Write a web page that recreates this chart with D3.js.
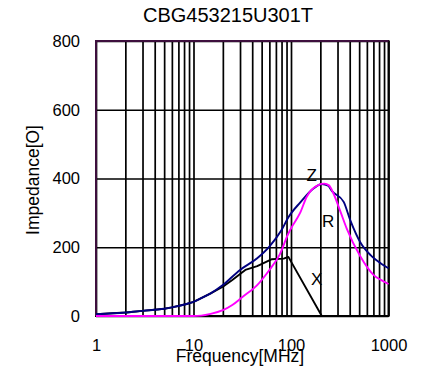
<!DOCTYPE html>
<html><head><meta charset="utf-8">
<script src="https://cdn.jsdelivr.net/npm/d3@7"></script>
<style>body{margin:0;background:#fff}svg{display:block}text{font-family:"Liberation Sans",Arial,sans-serif;fill:#000}</style>
</head><body><svg id="c" width="422" height="374"></svg>
<script>
const title = "CBG453215U301T";
const xLabel = "Frequency[MHz]";
const yLabel = "Impedance[O]";
const xTicks = [1, 10, 100, 1000];
const yTicks = [0, 200, 400, 600, 800];

const zFreq = [1, 2, 3, 5, 6, 8.5, 10, 12, 15, 20, 30, 45, 60, 80, 94, 124, 170, 207, 240, 262, 347, 405, 515, 655, 835, 1000];
const zVal  = [5, 10, 15, 21, 25, 35, 41, 52, 66, 90, 134, 168, 202, 250, 287, 330, 371, 384, 379, 364, 332, 279, 214, 177, 153, 139];

const rFreq = [1, 5, 10, 12, 15, 20, 25, 32, 45, 60, 77, 94, 105, 124, 145, 190, 220, 245, 272, 320, 372, 515, 705, 835, 1000];
const rVal  = [0, 0, 0, 1, 6, 17, 32, 56, 90, 134, 180, 240, 265, 300, 347, 381, 385, 380, 357, 305, 255, 173, 119, 105, 93];

const xFreq = [1, 2, 3, 5, 6, 8.5, 10, 12, 15, 20, 25, 34, 45, 63, 84, 94, 207];
const xVal  = [5, 10, 15, 21, 25, 35, 41, 52, 66, 85, 105, 134, 145, 165, 167, 172, 0];

const seriesNames = ["X", "Z", "R"];
const seriesColors = {X: "#000000", Z: "#000080", R: "#ff00ff"};
const labelNames = ["Z", "R", "X"];
const labelFreq = [163, 241, 183];
const labelVal = [394, 260, 90];

const L = 96, R = 388.5, T = 41, B = 316;
const svg = d3.select("#c");
const x = d3.scaleLog().domain([1, 1000]).range([L, R]);
const y = d3.scaleLinear().domain([0, 800]).range([B, T]);
const FONT = '"Liberation Sans",Arial,sans-serif';

const gridX = [];
for (let d = 1; d < 1000; d *= 10) for (let k = 1; k <= 9; k++) gridX.push(d * k);
gridX.push(1000);

const gx = svg.append("g").attr("transform", `translate(0,${B})`)
  .call(d3.axisBottom(x).tickValues(gridX).tickSize(-(B - T)).tickFormat(""));
gx.select(".domain").remove();
gx.selectAll("line").attr("stroke", "#000").attr("stroke-width", 1.7);

const gy = svg.append("g").attr("transform", `translate(${L},0)`)
  .call(d3.axisLeft(y).tickValues(yTicks).tickSize(-(R - L)).tickFormat(""));
gy.select(".domain").remove();
gy.selectAll("line").attr("stroke", "#000").attr("stroke-width", 1.7);

svg.append("rect").attr("x", L).attr("y", T).attr("width", R - L).attr("height", B - T)
  .attr("fill", "none").attr("stroke", "#000").attr("stroke-width", 2);
svg.append("path").attr("d", `M${L},${B}V${T}H${R}`).attr("fill", "none")
  .attr("stroke", "#3d0f3d").attr("stroke-width", 2);

const ax = svg.append("g").attr("transform", `translate(0,${B})`)
  .call(d3.axisBottom(x).tickValues(xTicks).tickSize(0).tickPadding(23).tickFormat(d3.format("d")));
ax.select(".domain").remove();
ax.selectAll("text").style("font-size", "16.5px").style("font-family", FONT).attr("fill", "#000");

const ay = svg.append("g").attr("transform", `translate(${L},0)`)
  .call(d3.axisLeft(y).tickValues(yTicks).tickSize(0).tickPadding(16).tickFormat(d3.format("d")));
ay.select(".domain").remove();
ay.selectAll("text").style("font-size", "16.5px").style("font-family", FONT).attr("fill", "#000");

const data = {
  X: xFreq.map((f, i) => [f, xVal[i]]),
  Z: zFreq.map((f, i) => [f, zVal[i]]),
  R: rFreq.map((f, i) => [f, rVal[i]])
};
seriesNames.forEach(name => {
  const line = d3.line().x(d => x(d[0])).y(d => y(d[1]))
    .curve(name === "X" ? d3.curveLinear : d3.curveMonotoneX);
  svg.append("path").datum(data[name]).attr("d", line)
    .attr("fill", "none").attr("stroke", seriesColors[name]).attr("stroke-width", 1.9)
    .attr("stroke-linejoin", "round");
});

labelNames.forEach((n, i) => {
  svg.append("text").attr("x", x(labelFreq[i])).attr("y", y(labelVal[i]))
    .attr("text-anchor", "middle").style("font-size", "17px").text(n);
});

svg.append("text").attr("x", 228).attr("y", 21.5).attr("text-anchor", "middle")
  .style("font-size", "20px").text(title);
svg.append("text").attr("x", 240).attr("y", 362).attr("text-anchor", "middle")
  .style("font-size", "17.5px").text(xLabel);
svg.append("text").attr("transform", "translate(39,180) rotate(-90)").attr("text-anchor", "middle")
  .style("font-size", "17.5px").text(yLabel);
</script></body></html>
